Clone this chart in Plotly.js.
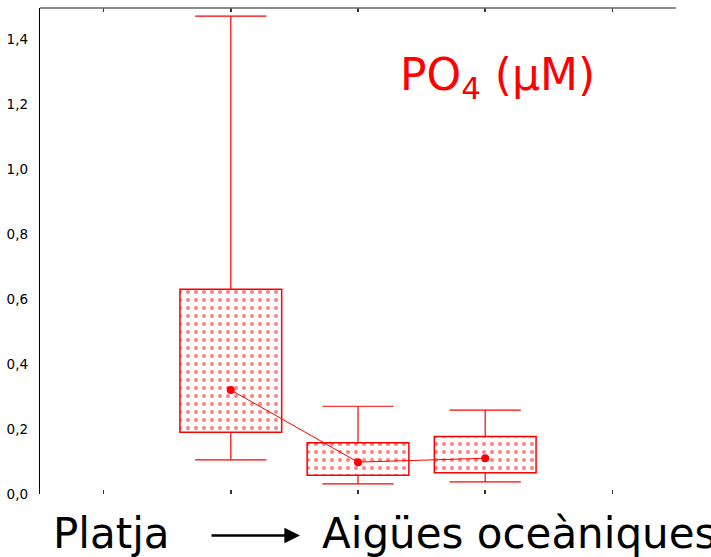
<!DOCTYPE html>
<html>
<head>
<meta charset="utf-8">
<script src="https://cdn.plot.ly/plotly-3.0.1.min.js"></script>
<style>html,body{margin:0;padding:0;background:#fff;}#chart{width:711px;height:557px;}</style>
</head>
<body>
<div id="chart"></div>
<script>
// ---- data ----
var xPos = [1, 2, 3];
var q1 = [0.19, 0.058, 0.065];
var q3 = [0.63, 0.158, 0.177];
var medianVals = [0.32, 0.098, 0.11];
var lowWhisker = [0.105, 0.031, 0.037];
var highWhisker = [1.47, 0.27, 0.258];
var yTicks = [0, 0.2, 0.4, 0.6, 0.8, 1.0, 1.2, 1.4];
var gridTicks = [0.2, 0.4, 0.6, 0.8, 1.0, 1.2, 1.4];
var xTicks = [0, 1, 2, 3, 4];
var titleText = 'PO<sub>4</sub> (µM)';
var leftLabel = 'Platja';
var rightLabel = 'Aigües oceàniques';

var RED = '#ff0000';
var capHalf = 0.28;

// whisker lines built from the data arrays
var wx = [], wy = [];
for (var i = 0; i < xPos.length; i++) {
  wx.push(xPos[i], xPos[i], null); wy.push(q3[i], highWhisker[i], null);
  wx.push(xPos[i] - capHalf, xPos[i] + capHalf, null); wy.push(highWhisker[i], highWhisker[i], null);
  wx.push(xPos[i], xPos[i], null); wy.push(q1[i], lowWhisker[i], null);
  wx.push(xPos[i] - capHalf, xPos[i] + capHalf, null); wy.push(lowWhisker[i], lowWhisker[i], null);
}

var boxes = {
  type: 'bar',
  x: xPos,
  base: q1,
  y: q3.map(function (v, i) { return v - q1[i]; }),
  width: 0.8,
  marker: {
    color: '#ffffff',
    line: { color: RED, width: 1.5 },
    pattern: { shape: '.', fgcolor: RED, bgcolor: '#ffffff', size: 8, solidity: 0.2, fillmode: 'overlay' }
  },
  hoverinfo: 'skip',
  showlegend: false
};

var whiskers = {
  type: 'scatter', mode: 'lines',
  x: wx, y: wy,
  line: { color: RED, width: 1.2 },
  hoverinfo: 'skip', showlegend: false
};

var medians = {
  type: 'scatter', mode: 'lines+markers',
  x: xPos, y: medianVals,
  line: { color: RED, width: 1 },
  marker: { color: RED, size: 8 },
  showlegend: false
};

var layout = {
  width: 711, height: 557,
  margin: { l: 40, r: 35, t: 8, b: 63 },
  paper_bgcolor: '#ffffff', plot_bgcolor: '#ffffff',
  separators: ', ',
  showlegend: false,
  bargap: 0,
  font: { family: 'DejaVu Sans, Verdana, sans-serif', color: '#000' },
  xaxis: {
    range: [-0.5, 4.5],
    tickvals: xTicks,
    showticklabels: false,
    ticks: 'inside', ticklen: 4, tickcolor: '#333', tickwidth: 1.5,
    mirror: 'ticks',
    showline: false, showgrid: false, zeroline: false,
    fixedrange: true
  },
  yaxis: {
    range: [0, 1.495],
    tickvals: yTicks,
    tickformat: '.1f',
    ticks: '', ticklabelstandoff: 8,
    tickfont: { size: 13.5, color: '#000', family: 'DejaVu Sans, Verdana, sans-serif' },
    showline: true, linecolor: '#000', linewidth: 1.2,
    showgrid: false, zeroline: false
  },
  yaxis2: {
    overlaying: 'y', side: 'right',
    range: [0, 1.495],
    tickvals: gridTicks,
    showticklabels: false,
    ticks: 'inside', ticklen: 4, tickcolor: '#555', tickwidth: 2,
    showline: true, linecolor: '#888', linewidth: 2,
    showgrid: true, gridcolor: '#c4c4c4', gridwidth: 1, griddash: 'dot',
    zeroline: false
  },
  shapes: [
    { type: 'line', xref: 'paper', yref: 'paper', x0: 0, x1: 1, y0: 1, y1: 1,
      line: { color: '#666', width: 1.5 } }
  ],
  annotations: [
    { xref: 'paper', yref: 'paper', x: 0.563, y: 0.857, xanchor: 'left', yanchor: 'middle',
      text: titleText, showarrow: false,
      font: { family: 'DejaVu Sans, Verdana, sans-serif', size: 44, color: RED } },
    { xref: 'paper', yref: 'paper', x: 0.018, y: -0.081, xanchor: 'left', yanchor: 'middle',
      text: leftLabel, showarrow: false,
      font: { family: 'DejaVu Sans, Verdana, sans-serif', size: 42, color: '#000' } },
    { xref: 'paper', yref: 'paper', x: 0.441, y: -0.081, xanchor: 'left', yanchor: 'middle',
      text: rightLabel, showarrow: false,
      font: { family: 'DejaVu Sans, Verdana, sans-serif', size: 42, color: '#000' } },
    { xref: 'paper', yref: 'paper', x: 0.4088, y: -0.0854, ax: -90, ay: 0,
      text: '', showarrow: true, arrowhead: 2, arrowsize: 1.2, arrowwidth: 2.6, arrowcolor: '#000' }
  ]
};

Plotly.newPlot('chart', [boxes, whiskers, medians], layout, { displayModeBar: false, staticPlot: true });
</script>
</body>
</html>
